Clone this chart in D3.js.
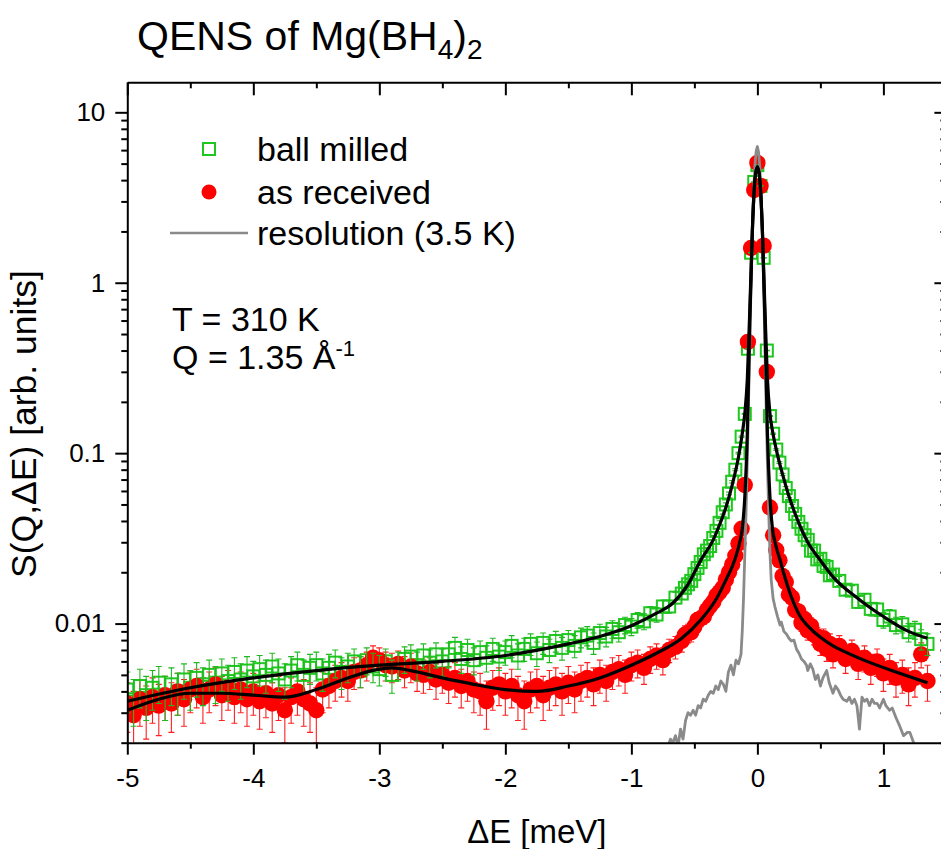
<!DOCTYPE html>
<html><head><meta charset="utf-8">
<script src="https://cdn.jsdelivr.net/npm/d3@7"></script>
<style>body{margin:0;background:#fff}svg{display:block}</style>
</head><body><svg id="c" width="941" height="849"></svg>
<script>
// ---------------- data ----------------
const energy=[-5.00,-4.95,-4.90,-4.85,-4.80,-4.75,-4.70,-4.65,-4.60,-4.55,
-4.50,-4.45,-4.40,-4.35,-4.30,-4.25,-4.20,-4.15,-4.10,-4.05,
-4.00,-3.95,-3.90,-3.85,-3.80,-3.75,-3.70,-3.65,-3.60,-3.55,
-3.50,-3.45,-3.40,-3.35,-3.30,-3.25,-3.20,-3.15,-3.10,-3.05,
-3.00,-2.95,-2.90,-2.85,-2.80,-2.75,-2.70,-2.65,-2.60,-2.55,
-2.50,-2.45,-2.40,-2.35,-2.30,-2.25,-2.20,-2.15,-2.10,-2.05,
-2.00,-1.95,-1.90,-1.85,-1.80,-1.75,-1.70,-1.65,-1.60,-1.55,
-1.50,-1.45,-1.40,-1.35,-1.30,-1.25,-1.20,-1.15,-1.10,-1.05,
-1.00,-0.95,-0.90,-0.85,-0.80,-0.75,-0.70,-0.65,
-0.600,-0.575,-0.550,-0.525,-0.500,-0.475,-0.450,-0.425,-0.400,-0.375,
-0.350,-0.325,-0.300,-0.275,-0.250,-0.225,-0.200,-0.175,-0.150,-0.125,
-0.100,-0.075,-0.050,-0.025,0.000,0.025,0.050,0.075,0.100,0.125,
0.150,0.175,0.200,0.225,0.250,0.275,0.300,0.325,0.350,0.375,
0.400,0.425,0.450,0.475,0.500,0.525,0.550,0.575,0.600,
0.65,0.70,0.75,0.80,0.85,0.90,0.95,1.00,1.05,1.10,
1.15,1.20,1.25,1.30,1.35];

const ballMilled=[0.0041,0.0036,0.0043,0.0038,0.0042,0.0045,0.0038,0.0044,0.0040,0.0047,
0.0042,0.0048,0.0044,0.0050,0.0045,0.0051,0.0046,0.0052,0.0047,0.0053,
0.0049,0.0054,0.0050,0.0056,0.0051,0.0047,0.0053,0.0057,0.0050,0.0055,
0.0057,0.0051,0.0055,0.0059,0.0052,0.0056,0.0060,0.0053,0.0061,0.0056,
0.0054,0.0060,0.0050,0.0057,0.0062,0.0064,0.0057,0.0065,0.0059,0.0066,
0.0060,0.0066,0.0072,0.0062,0.0070,0.0061,0.0068,0.0063,0.0071,0.0064,
0.0068,0.0074,0.0065,0.0071,0.0076,0.0067,0.0077,0.0070,0.0079,0.0072,
0.0080,0.0074,0.0083,0.0085,0.0077,0.0088,0.0084,0.0093,0.0089,0.0098,
0.0096,0.0105,0.0103,0.0115,0.0113,0.0126,0.0126,0.0142,
0.0150,0.0162,0.0170,0.0178,0.0195,0.0212,0.0230,0.0255,0.0268,0.0285,
0.0318,0.0350,0.0390,0.0450,0.0500,0.0580,0.0680,0.0800,0.1000,0.1250,
0.1700,0.4100,1.5000,3.9000,4.9000,3.7000,1.4000,0.4000,0.1650,0.1300,
0.1050,0.0880,0.0750,0.0625,0.0560,0.0490,0.0440,0.0395,0.0360,0.0330,
0.0310,0.0268,0.0268,0.0238,0.0240,0.0218,0.0215,0.0192,0.0194,
0.0178,0.0158,0.0156,0.0134,0.0138,0.0122,0.0121,0.0105,0.0110,0.0098,
0.0099,0.0089,0.0092,0.0081,0.0076];

const asReceived=[0.0034,0.0029,0.0036,0.0032,0.0037,0.0033,0.0038,0.0034,0.0040,0.0036,
0.0041,0.0043,0.0037,0.0041,0.0044,0.0038,0.0042,0.0037,0.0041,0.0036,
0.0040,0.0035,0.0039,0.0034,0.0038,0.0031,0.0037,0.0040,0.0036,0.0034,
0.0031,0.0041,0.0043,0.0046,0.0048,0.0046,0.0052,0.0053,0.0057,0.0063,
0.0061,0.0057,0.0056,0.0058,0.0053,0.0056,0.0051,0.0050,0.0052,0.0047,
0.0050,0.0045,0.0048,0.0043,0.0046,0.0041,0.0040,0.0035,0.0042,0.0044,
0.0040,0.0043,0.0038,0.0035,0.0041,0.0043,0.0038,0.0042,0.0044,0.0040,
0.0045,0.0041,0.0046,0.0048,0.0044,0.0050,0.0046,0.0052,0.0054,0.0050,
0.0057,0.0059,0.0055,0.0062,0.0065,0.0061,0.0070,0.0073,
0.0079,0.0086,0.0088,0.0089,0.0096,0.0105,0.0107,0.0110,0.0120,0.0127,
0.0134,0.0146,0.0153,0.0162,0.0181,0.0200,0.0222,0.0250,0.0295,0.0360,
0.0650,0.4500,1.6000,3.5000,5.0500,3.7000,1.6500,0.3000,0.0480,0.0330,
0.0270,0.0235,0.0190,0.0175,0.0148,0.0142,0.0120,0.0118,0.0101,0.0106,
0.0091,0.0097,0.0086,0.0084,0.0076,0.0082,0.0071,0.0076,0.0066,
0.0074,0.0062,0.0069,0.0058,0.0063,0.0055,0.0060,0.0051,0.0055,0.0048,
0.0050,0.0044,0.0048,0.0066,0.0046];

const ballMilledErr=0.0011;
const asReceivedErr=0.0011;

const fitBallE=[-5,-4.5,-4,-3.5,-3,-2.5,-2,-1.5,-1.25,-1,-0.8,-0.67,-0.55,-0.45,-0.35,-0.3,-0.25,-0.2,-0.15,-0.12,-0.1,-0.08,-0.06,-0.04,-0.02,0,0.02,0.04,0.06,0.08,0.1,0.12,0.15,0.2,0.25,0.3,0.4,0.5,0.6,0.8,1.0,1.2,1.35];
const fitBallV=[0.0035,0.0042,0.0048,0.0053,0.0057,0.0060,0.0065,0.0076,0.0084,0.0097,0.0115,0.0132,0.0170,0.0235,0.031,0.038,0.048,0.065,0.095,0.13,0.17,0.27,0.7,2.0,4.0,4.8,4.0,2.0,0.7,0.27,0.17,0.135,0.105,0.075,0.056,0.044,0.030,0.0235,0.0188,0.0140,0.0110,0.0090,0.0082];

const fitRecE=[-5,-4.75,-4.5,-4.25,-4,-3.75,-3.5,-3.25,-3,-2.9,-2.75,-2.5,-2.25,-2,-1.75,-1.5,-1.25,-1,-0.8,-0.6,-0.45,-0.33,-0.25,-0.18,-0.14,-0.12,-0.1,-0.08,-0.06,-0.04,-0.02,0,0.02,0.04,0.06,0.08,0.1,0.12,0.14,0.18,0.22,0.26,0.30,0.34,0.40,0.5,0.6,0.7,0.87,1.1,1.35];
const fitRecV=[0.0031,0.0036,0.0039,0.0039,0.0038,0.0037,0.0041,0.0048,0.0054,0.0055,0.0053,0.0048,0.0044,0.0041,0.0040,0.0043,0.0048,0.0057,0.0067,0.0082,0.0105,0.0138,0.018,0.0236,0.030,0.036,0.055,0.13,0.6,2.0,4.0,4.8,4.0,2.0,0.6,0.13,0.055,0.036,0.030,0.0236,0.0185,0.0150,0.0126,0.0110,0.0097,0.0083,0.0074,0.0068,0.0060,0.0052,0.0045];

const resE=[-0.71,-0.69,-0.67,-0.65,-0.63,-0.61,-0.59,-0.57,-0.55,-0.53,
-0.51,-0.49,-0.47,-0.45,-0.43,-0.41,-0.39,-0.37,-0.35,-0.33,
-0.31,-0.29,-0.27,-0.25,-0.23,-0.21,-0.19,-0.17,-0.15,-0.13,
-0.12,-0.11,-0.10,-0.09,-0.08,-0.07,-0.06,-0.05,-0.04,-0.03,
-0.02,-0.01,0,0.01,0.02,0.03,0.04,0.05,0.06,0.07,
0.08,0.09,0.10,0.11,0.125,0.14,0.16,0.18,0.19,0.21,
0.23,0.25,0.27,0.29,0.31,0.33,0.35,0.37,0.39,0.40,
0.42,0.44,0.46,0.48,0.50,0.52,0.55,0.57,0.60,0.62,
0.64,0.66,0.68,0.71,0.73,0.75,0.77,0.79,0.81,0.83,
0.85,0.87,0.89,0.91,0.93,0.95,0.97,1.00,1.02,1.05,
1.07,1.10,1.13,1.16,1.19,1.21,1.24,1.26];
const resV=[0.0019,0.0021,0.0020,0.0022,0.0019,0.0024,0.0021,0.0027,0.0030,0.0029,
0.0031,0.0029,0.0033,0.0032,0.0036,0.0035,0.0038,0.0040,0.0039,0.0043,
0.0041,0.0046,0.0044,0.0040,0.0052,0.0057,0.0050,0.0061,0.0058,0.0066,
0.0090,0.0140,0.0250,0.045,0.09,0.2,0.45,1.0,2.0,3.4,
4.8,5.9,6.3,5.8,4.7,3.2,1.9,0.95,0.42,0.18,
0.085,0.045,0.026,0.018,0.014,0.0125,0.011,0.0098,0.0102,0.0090,
0.0087,0.0082,0.0079,0.0080,0.0071,0.0067,0.0062,0.0060,0.0057,0.0053,
0.0058,0.0054,0.0047,0.0050,0.0043,0.0048,0.0053,0.0045,0.0039,0.0043,
0.0041,0.0038,0.0036,0.0035,0.0037,0.0034,0.0036,0.0033,0.0024,0.0037,
0.0035,0.0036,0.0033,0.0036,0.0034,0.0034,0.0032,0.0036,0.0033,0.0031,
0.0032,0.0028,0.0025,0.0022,0.0023,0.0023,0.0020,0.0019];

const xTicks=[-5,-4,-3,-2,-1,0,1];
const xMinorTicks=[-4.5,-3.5,-2.5,-1.5,-0.5,0.5];
const yTicks=[0.01,0.1,1,10];
const yTickLabels=["0.01","0.1","1","10"];
const legendLabels=["ball milled","as received","resolution (3.5 K)"];

// ---------------- drawing ----------------
const FONT='"Liberation Sans", Arial, Helvetica, sans-serif';
const GREEN="#1ec81e", RED="#ff0000", GRAY="#8a8a8a";
const L=127.3,R=946.4,T=82.3,B=742.7;
const svg=d3.select("#c");
svg.append("rect").attr("width",941).attr("height",849).attr("fill","#fff");
const x=d3.scaleLinear().domain([-5,1.5]).range([L,R]);
const y=d3.scaleLog().domain([0.002,15]).range([B,T]);

svg.append("defs").append("clipPath").attr("id","clip")
  .append("rect").attr("x",L).attr("y",T).attr("width",R-L).attr("height",B-T);
const plot=svg.append("g").attr("clip-path","url(#clip)");

const red=energy.map((e,i)=>({e,v:asReceived[i],err:asReceivedErr}));
const green=energy.map((e,i)=>({e,v:ballMilled[i],err:ballMilledErr}));

function errBars(data,color){
  const g=plot.append("g").attr("stroke",color).attr("stroke-width",1.1).attr("fill","none");
  data.forEach(d=>{
    const cx=x(d.e), y1=y(d.v+d.err), y2=y(Math.max(d.v-d.err,1e-4));
    g.append("line").attr("x1",cx).attr("x2",cx).attr("y1",y1).attr("y2",y2);
    g.append("line").attr("x1",cx-3).attr("x2",cx+3).attr("y1",y1).attr("y2",y1);
    g.append("line").attr("x1",cx-3).attr("x2",cx+3).attr("y1",y2).attr("y2",y2);
  });
}
errBars(red,"#ff2020");
plot.append("g").selectAll("rect").data(green).join("rect")
  .attr("x",d=>x(d.e)-6).attr("y",d=>y(d.v)-6).attr("width",12).attr("height",12)
  .attr("fill","none").attr("stroke",GREEN).attr("stroke-width",2);
plot.append("g").selectAll("circle").data(red).join("circle")
  .attr("cx",d=>x(d.e)).attr("cy",d=>y(d.v)).attr("r",8.2).attr("fill",RED);
errBars(green,"#22b822");

const smooth=d3.line().x(d=>x(d[0])).y(d=>y(d[1])).curve(d3.curveMonotoneX);
const straight=d3.line().x(d=>x(d[0])).y(d=>y(d[1]));
plot.append("path").datum(resE.map((e,i)=>[e,resV[i]])).attr("d",straight)
  .attr("fill","none").attr("stroke",GRAY).attr("stroke-width",2.8).attr("stroke-linejoin","round");
plot.append("path").datum(fitBallE.map((e,i)=>[e,fitBallV[i]])).attr("d",smooth)
  .attr("fill","none").attr("stroke","#000").attr("stroke-width",3.2);
plot.append("path").datum(fitRecE.map((e,i)=>[e,fitRecV[i]])).attr("d",smooth)
  .attr("fill","none").attr("stroke","#000").attr("stroke-width",3.2);

// axes
function style(g,keepDomain){
  g.select(".domain").attr("stroke","#000").attr("stroke-width",2);
  g.selectAll(".tick line").attr("stroke","#000").attr("stroke-width",2);
  g.selectAll(".tick text").attr("font-family",FONT).attr("font-size",26).attr("fill","#000");
  if(!keepDomain) g.select(".domain").remove();
}
svg.append("g").attr("transform",`translate(0,${B})`)
  .call(d3.axisBottom(x).tickValues(xTicks).tickSize(12).tickSizeOuter(0).tickPadding(14).tickFormat(d=>String(d)))
  .call(g=>style(g,true));
svg.append("g").attr("transform",`translate(0,${B})`)
  .call(d3.axisBottom(x).tickValues(xMinorTicks).tickSize(6).tickFormat(""))
  .call(g=>style(g,false));
svg.append("g").attr("transform",`translate(0,${T})`)
  .call(d3.axisTop(x).tickValues(xTicks).tickSize(-13).tickSizeOuter(0).tickFormat(""))
  .call(g=>style(g,true));
svg.append("g").attr("transform",`translate(0,${T})`)
  .call(d3.axisTop(x).tickValues(xMinorTicks).tickSize(-6).tickFormat(""))
  .call(g=>style(g,false));
const yMinor=y.ticks().filter(v=>!yTicks.some(t=>Math.abs(t-v)<1e-9));
svg.append("g").attr("transform",`translate(${L},0)`)
  .call(d3.axisLeft(y).tickValues(yTicks).tickSize(12).tickSizeOuter(0).tickPadding(10).tickFormat((d,i)=>yTickLabels[i]))
  .call(g=>style(g,true));
svg.append("g").attr("transform",`translate(${L},0)`)
  .call(d3.axisLeft(y).tickValues(yMinor).tickSize(6).tickFormat(""))
  .call(g=>style(g,false));
svg.append("g").attr("transform",`translate(${R},0)`)
  .call(d3.axisRight(y).tickValues(yTicks).tickSize(-12).tickSizeOuter(0).tickFormat(""))
  .call(g=>style(g,true));
svg.append("g").attr("transform",`translate(${R},0)`)
  .call(d3.axisRight(y).tickValues(yMinor).tickSize(-6).tickFormat(""))
  .call(g=>style(g,false));

// axis titles
svg.append("text").attr("x",(L+R)/2).attr("y",843).attr("text-anchor","middle")
  .attr("font-family",FONT).attr("font-size",33).text("\u0394E [meV]");
svg.append("text").attr("transform","translate(36,424) rotate(-90)").attr("text-anchor","middle")
  .attr("font-family",FONT).attr("font-size",35.5).text("S(Q,\u0394E) [arb. units]");

// title
const title=svg.append("text").attr("x",137).attr("y",50).attr("font-family",FONT).attr("font-size",41);
title.append("tspan").text("QENS of Mg(BH");
title.append("tspan").attr("dy",9).attr("font-size",28).text("4");
title.append("tspan").attr("dy",-9).text(")");
title.append("tspan").attr("dy",9).attr("font-size",28).text("2");

// legend
const lg=svg.append("g").attr("font-family",FONT).attr("font-size",34);
lg.append("rect").attr("x",209-6).attr("y",149-6).attr("width",12).attr("height",12)
  .attr("fill","none").attr("stroke",GREEN).attr("stroke-width",2);
lg.append("circle").attr("cx",209).attr("cy",192).attr("r",7.5).attr("fill",RED);
lg.append("line").attr("x1",170).attr("x2",248).attr("y1",233).attr("y2",233).attr("stroke",GRAY).attr("stroke-width",2.6);
[149,192,233].forEach((cy,i)=>lg.append("text").attr("x",257).attr("y",cy+12).text(legendLabels[i]));

// annotations
const ann=svg.append("g").attr("font-family",FONT).attr("font-size",34);
ann.append("text").attr("x",172).attr("y",331).text("T = 310 K");
const q=ann.append("text").attr("x",172).attr("y",369);
q.append("tspan").text("Q = 1.35 \u00C5");
q.append("tspan").attr("dy",-13).attr("font-size",22).text("-1");
</script></body></html>
